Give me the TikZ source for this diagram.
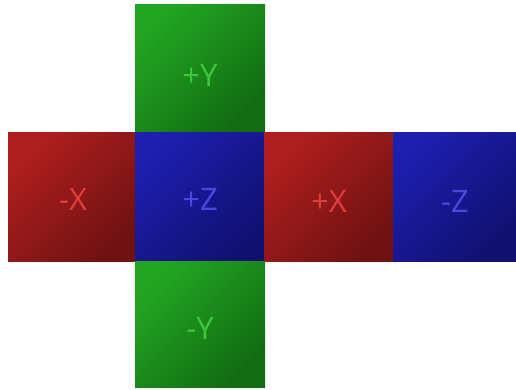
\documentclass[tikz,border=0pt]{standalone}
\usepackage{fontspec}
\setmainfont{Open Sans}
\definecolor{redhi}{RGB}{175,30,30}
\definecolor{redlo}{RGB}{112,18,18}
\definecolor{greenhi}{RGB}{34,165,34}
\definecolor{greenlo}{RGB}{18,108,18}
\definecolor{bluehi}{RGB}{30,30,175}
\definecolor{bluelo}{RGB}{16,16,112}
\definecolor{redtx}{RGB}{228,60,60}
\definecolor{greentx}{RGB}{60,200,60}
\definecolor{bluetx}{RGB}{72,72,225}
\begin{document}
\begin{tikzpicture}[x=1pt,y=1pt,
  redface/.style={top color=redhi, bottom color=redlo, shading angle=45},
  greenface/.style={top color=greenhi, bottom color=greenlo, shading angle=45},
  blueface/.style={top color=bluehi, bottom color=bluelo, shading angle=45},
  lbl/.style={font=\fontsize{31}{31}\selectfont, inner sep=0pt},
  redlbl/.style={lbl, text=redtx},
  greenlbl/.style={lbl, text=greentx},
  bluelbl/.style={lbl, text=bluetx}]
\useasboundingbox (0,0) rectangle (516,390);
\shade[greenface] (135,385) rectangle (265,257);
\shade[redface] (8,257) rectangle (136,128);
\shade[blueface] (135,257) rectangle (265,128);
\shade[redface] (264,257) rectangle (393,128);
\shade[blueface] (393,257) rectangle (516,128);
\shade[greenface] (135,128) rectangle (265,2);
\node[greenlbl] (py) at (200,315) {+Y};
\node[redlbl] (nx) at (73,191) {-X};
\node[bluelbl] (pz) at (200,191) {+Z};
\node[redlbl] (px) at (329,189) {+X};
\node[bluelbl] (nz) at (455,189) {-Z};
\node[greenlbl] (ny) at (200,62) {-Y};
\end{tikzpicture}
\end{document}
